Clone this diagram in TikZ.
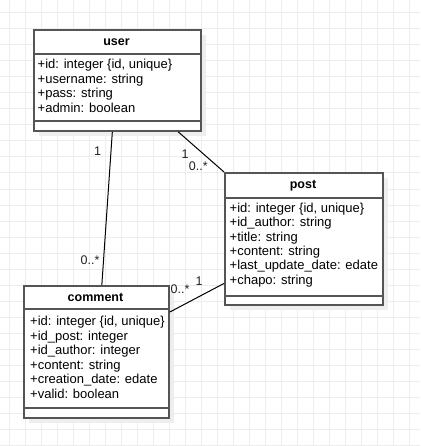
\documentclass[tikz,border=0pt]{standalone}
\usepackage{fontspec}
\setmainfont{Liberation Sans}
\usetikzlibrary{calc}

\definecolor{gridcol}{HTML}{EDEDED}
\definecolor{shadowcol}{HTML}{EEEEEE}
\definecolor{framecol}{HTML}{555555}
\definecolor{inkcol}{HTML}{000000}
\definecolor{labelcol}{HTML}{222222}

\tikzset{
  gridline/.style={draw=gridcol, line width=1pt},
  classbox/.style={draw=framecol, line width=1.8pt, fill=white, rectangle,
    inner sep=0pt, anchor=north west},
  divider/.style={draw=framecol, line width=1.8pt},
  boxshadow/.style={fill=shadowcol},
  classname/.style={font=\fontsize{12.5pt}{15pt}\selectfont\bfseries,
    text=inkcol, inner sep=0pt, anchor=center},
  attr/.style={font=\fontsize{13pt}{15pt}\selectfont, text=inkcol,
    inner sep=0pt, anchor=base west},
  link/.style={draw=black, line width=1pt},
  mult/.style={font=\fontsize{12.5pt}{15pt}\selectfont, text=labelcol,
    inner sep=0pt, anchor=center},
}

\begin{document}
\begin{tikzpicture}[x=1pt,y=-1pt]
  \useasboundingbox (0,0) rectangle (420,446);
  \fill[white] (0,0) rectangle (420,446);

  % background grid
  \foreach \gx in {9,25,...,409} \draw[gridline] (\gx,0) -- (\gx,446);
  \foreach \gy in {13,29,...,445} \draw[gridline] (0,\gy) -- (420,\gy);

  % drop shadows of the class boxes
  \fill[boxshadow] (39,35) rectangle (206,136);
  \fill[boxshadow] (230,178) rectangle (388,310);
  \fill[boxshadow] (29,291) rectangle (174,423);

  % class: user
  \node[classbox, minimum width=167pt, minimum height=101pt] (user) at (33,29) {};
  \draw[divider] ([yshift=-25pt]user.north west) -- ([yshift=-25pt]user.north east);
  \draw[divider] ([yshift=-92pt]user.north west) -- ([yshift=-92pt]user.north east);
  \node[classname] (userTitle) at (116.5,41.7) {user};
  \node[attr] (u1) at (37.5,69)   {+id: integer \{id, unique\}};
  \node[attr] (u2) at (37.5,83.5) {+username: string};
  \node[attr] (u3) at (37.5,98)   {+pass: string};
  \node[attr] (u4) at (37.5,112.5) {+admin: boolean};

  % class: post
  \node[classbox, minimum width=158pt, minimum height=132pt] (post) at (224,172) {};
  \draw[divider] ([yshift=-26pt]post.north west) -- ([yshift=-26pt]post.north east);
  \draw[divider] ([yshift=-124pt]post.north west) -- ([yshift=-124pt]post.north east);
  \node[classname] (postTitle) at (303,185.7) {post};
  \node[attr] (p1) at (229.5,212.3) {+id: integer \{id, unique\}};
  \node[attr] (p2) at (229.5,226.7) {+id\_author: string};
  \node[attr] (p3) at (229.5,241.1) {+title: string};
  \node[attr] (p4) at (229.5,255.5) {+content: string};
  \node[attr] (p5) at (229.5,269.9) {+last\_update\_date: edate};
  \node[attr] (p6) at (229.5,284.3) {+chapo: string};

  % class: comment
  \node[classbox, minimum width=145pt, minimum height=132pt] (comment) at (23,285) {};
  \draw[divider] ([yshift=-24pt]comment.north west) -- ([yshift=-24pt]comment.north east);
  \draw[divider] ([yshift=-123pt]comment.north west) -- ([yshift=-123pt]comment.north east);
  \node[classname] (commentTitle) at (95.5,297.3) {comment};
  \node[attr] (c1) at (30,325.5) {+id: integer \{id, unique\}};
  \node[attr] (c2) at (30,340.1) {+id\_post: integer};
  \node[attr] (c3) at (30,354.7) {+id\_author: integer};
  \node[attr] (c4) at (30,369.3) {+content: string};
  \node[attr] (c5) at (30,383.9) {+creation\_date: edate};
  \node[attr] (c6) at (30,398.5) {+valid: boolean};

  % associations
  \draw[link] ($(user.south west)!0.47!(user.south east)$)
           -- ($(comment.north west)!0.537!(comment.north east)$);
  \draw[link] ($(user.south west)!0.86!(user.south east)$) -- (post.north west);
  \draw[link] ($(comment.north east)!0.202!(comment.south east)$)
           -- ($(post.north west)!0.833!(post.south west)$);

  % multiplicities
  \node[mult] (m1) at (97.7,151.7) {1};
  \node[mult] (m2) at (90,260) {0..*};
  \node[mult] (m3) at (185,154) {1};
  \node[mult] (m4) at (198.3,166) {0..*};
  \node[mult] (m5) at (180,289.3) {0..*};
  \node[mult] (m6) at (199,280.7) {1};
\end{tikzpicture}
\end{document}
